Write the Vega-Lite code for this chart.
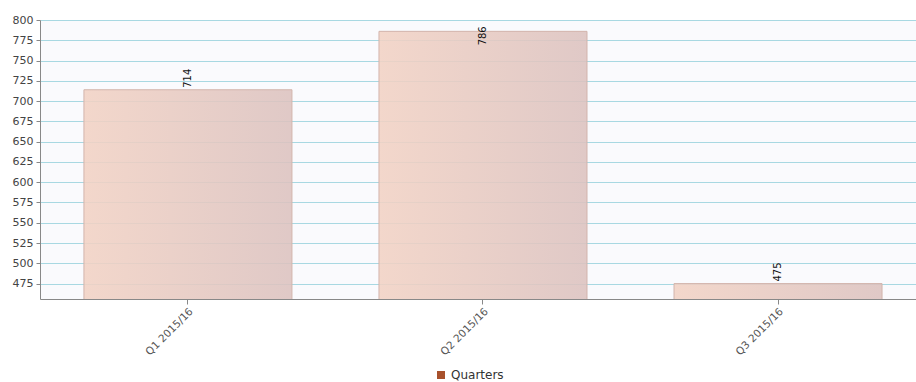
{
  "$schema": "https://vega.github.io/schema/vega-lite/v6.json",
  "width": 876,
  "height": 279,
  "autosize": "none",
  "padding": {"left": 40, "top": 20, "right": 0, "bottom": 83},
  "background": "white",
  "config": {
    "font": "DejaVu Sans",
    "view": {"stroke": null, "fill": "#fafafd"}
  },
  "data": {
    "values": [
      {"quarter": "Q1 2015/16", "count": 714},
      {"quarter": "Q2 2015/16", "count": 786},
      {"quarter": "Q3 2015/16", "count": 475}
    ]
  },
  "encoding": {
    "x": {
      "field": "quarter",
      "type": "nominal",
      "sort": null,
      "scale": {"paddingInner": 0.295, "paddingOuter": 0.132, "align": 0.564},
      "axis": {
        "title": null,
        "labelAngle": -45,
        "labelFontSize": 10.5,
        "labelColor": "#555555",
        "domainColor": "#888888",
        "tickColor": "#888888",
        "tickSize": 5,
        "labelPadding": 2,
        "grid": false
      }
    },
    "y": {
      "field": "count",
      "type": "quantitative",
      "scale": {"domain": [456, 800], "nice": false, "zero": false},
      "axis": {
        "title": null,
        "values": [475, 500, 525, 550, 575, 600, 625, 650, 675, 700, 725, 750, 775, 800],
        "labelFontSize": 11,
        "labelColor": "#444444",
        "domainColor": "#888888",
        "tickColor": "#888888",
        "tickSize": 4,
        "labelPadding": 3,
        "gridColor": "#a8d8e2",
        "gridOpacity": 1
      }
    }
  },
  "layer": [
    {
      "mark": {
        "type": "bar",
        "clip": true,
        "fill": {
          "gradient": "linear",
          "x1": 0, "y1": 0, "x2": 1, "y2": 0,
          "stops": [
            {"offset": 0, "color": "#f2d2c4"},
            {"offset": 1, "color": "#dcc2bf"}
          ]
        },
        "fillOpacity": 0.88,
        "stroke": "#d2b4ac",
        "strokeWidth": 1
      }
    },
    {
      "mark": {
        "type": "text",
        "angle": -90,
        "align": "left",
        "baseline": "middle",
        "fontSize": 10,
        "color": "#111111",
        "dx": {"expr": "datum.count > 780 ? -14 : 2"}
      },
      "encoding": {"text": {"field": "count", "type": "quantitative"}}
    },
    {
      "mark": {"type": "point", "shape": "square", "filled": true, "opacity": 0},
      "encoding": {
        "color": {
          "datum": "Quarters",
          "scale": {"range": ["#a8512c"]},
          "legend": {
            "orient": "none",
            "legendX": 395,
            "legendY": 349,
            "title": null,
            "symbolType": "square",
            "symbolOpacity": 1,
            "symbolSize": 64,
            "labelFontSize": 12,
            "labelColor": "#333333"
          }
        }
      }
    }
  ]
}
